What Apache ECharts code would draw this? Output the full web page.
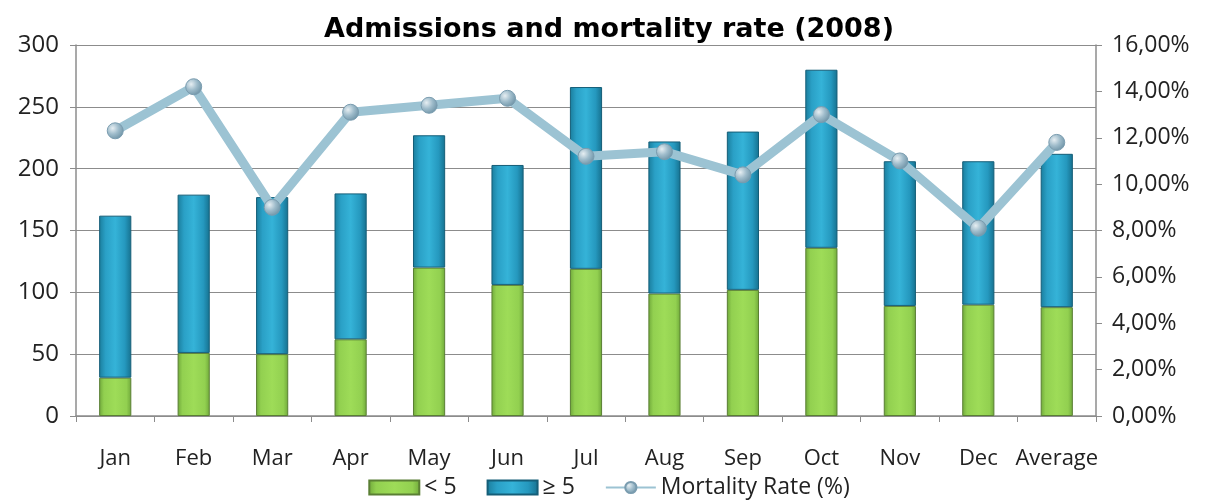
<!DOCTYPE html>
<html><head><meta charset="utf-8">
<script src="https://cdn.jsdelivr.net/npm/echarts@6/dist/echarts.min.js"></script>
<style>html,body{margin:0;padding:0;background:#fff}#c{width:1218px;height:504px}</style>
</head><body><div id="c"></div>
<script>
const categories = ['Jan','Feb','Mar','Apr','May','Jun','Jul','Aug','Sep','Oct','Nov','Dec','Average'];
const under5 = [31, 51, 50, 62, 120, 106, 119, 99, 102, 136, 89, 90, 88];
const totals = [162, 179, 177, 180, 227, 203, 266, 222, 230, 280, 206, 206, 212];
const over5 = totals.map((t, i) => t - under5[i]);
const mortality = [12.3, 14.2, 9.0, 13.1, 13.4, 13.7, 11.2, 11.4, 10.4, 13.0, 11.0, 8.1, 11.8];

const font = '"Open Sans", "Noto Sans", sans-serif';
const greenGrad = new echarts.graphic.LinearGradient(0,0,1,0,[
  {offset:0,color:'#6fa83a'},{offset:0.15,color:'#92d050'},{offset:0.5,color:'#9edc58'},{offset:0.85,color:'#92d050'},{offset:1,color:'#6fa83a'}]);
const blueGrad = new echarts.graphic.LinearGradient(0,0,1,0,[
  {offset:0,color:'#1a7d9c'},{offset:0.2,color:'#2aa0c6'},{offset:0.5,color:'#35b3d8'},{offset:0.8,color:'#2598be'},{offset:1,color:'#16708e'}]);
const markerGrad = new echarts.graphic.RadialGradient(0.35,0.35,0.7,[
  {offset:0,color:'#e6eef2'},{offset:0.5,color:'#9fbccb'},{offset:1,color:'#6e93a6'}]);

const chart = echarts.init(document.getElementById('c'));
chart.setOption({
  animation:false,
  title:{text:'Admissions and mortality rate (2008)',left:'center',top:11,
    textStyle:{fontFamily:'"DejaVu Sans", Verdana, sans-serif',fontWeight:'bold',fontSize:27,color:'#000'}},
  grid:{left:76,right:122,top:45,bottom:88},
  legend:{bottom:0,left:'center',itemGap:30,itemWidth:50,itemHeight:14,
    textStyle:{fontFamily:font,fontSize:23,color:'#222'},
    data:[{name:'< 5',icon:'rect'},{name:'≥ 5',icon:'rect'},{name:'Mortality Rate (%)'}]},
  xAxis:{type:'category',data:categories,
    axisLine:{lineStyle:{color:'#8c8c8c',width:1.5}},
    axisTick:{show:true,alignWithLabel:false,length:6,lineStyle:{color:'#8c8c8c'}},
    axisLabel:{fontFamily:font,fontSize:22,color:'#222',margin:32,interval:0}},
  yAxis:[
    {type:'value',min:0,max:300,interval:50,
      axisLine:{show:true,lineStyle:{color:'#8c8c8c',width:1.5}},
      axisTick:{show:true,length:6,lineStyle:{color:'#8c8c8c'}},
      splitLine:{lineStyle:{color:'#8c8c8c',width:1.2}},
      axisLabel:{fontFamily:font,fontSize:24,color:'#222',margin:17}},
    {type:'value',min:0,max:16,interval:2,position:'right',
      axisLine:{show:true,lineStyle:{color:'#8c8c8c',width:1.5}},
      axisTick:{show:true,length:6,lineStyle:{color:'#8c8c8c'}},
      splitLine:{show:false},
      axisLabel:{fontFamily:font,fontSize:23,color:'#222',margin:16,
        formatter:v=>v.toFixed(2).replace('.',',')+'%'}}
  ],
  series:[
    {name:'< 5',type:'bar',stack:'a',data:under5,barWidth:'41%',
      itemStyle:{color:greenGrad,borderColor:'#5a7f34',borderWidth:1}},
    {name:'≥ 5',type:'bar',stack:'a',data:over5,barWidth:'41%',
      itemStyle:{color:blueGrad,borderColor:'#155e78',borderWidth:1}},
    {name:'Mortality Rate (%)',type:'line',yAxisIndex:1,data:mortality,
      symbol:'circle',symbolSize:16,
      lineStyle:{color:'#9cc3d3',width:9},
      itemStyle:{color:markerGrad,borderColor:'#7a9caf',borderWidth:1}}
  ]
});
</script></body></html>
